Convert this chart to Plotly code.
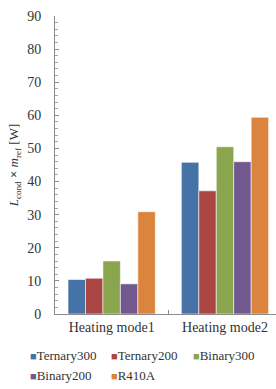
import plotly.graph_objects as go

categories = ["Heating mode1", "Heating mode2"]
series_names = ["Ternary300", "Ternary200", "Binary300", "Binary200", "R410A"]
ternary300 = [10.4, 45.8]
ternary200 = [10.8, 37.2]
binary300 = [16.0, 50.5]
binary200 = [9.1, 46.0]
r410a = [30.9, 59.4]
colors = ["#4572A7", "#AA4643", "#89A54E", "#71588F", "#DB843D"]

values = [ternary300, ternary200, binary300, binary200, r410a]

serif = "Liberation Serif, Times New Roman, serif"
W, H = 276, 389
ML, MR, MT, MB = 55, 0, 16, 75
pw, ph = W - ML - MR, H - MT - MB

fig = go.Figure()
for name, vals, col in zip(series_names, values, colors):
    fig.add_trace(go.Bar(
        x=categories, y=vals, name=name,
        marker=dict(color=col, line=dict(color="rgba(255,255,255,0.7)", width=0.8)),
        showlegend=False,
    ))

# legend drawn as text entries (2 rows, Excel-like)
legend_pos = [(28, 355), (109, 355), (191, 355), (28, 375), (109, 375)]
for name, col, (px, py) in zip(series_names, colors, legend_pos):
    fig.add_annotation(
        xref="paper", yref="paper",
        x=(px - ML) / pw, y=(MT + ph - py) / ph,
        xanchor="left", yanchor="middle", showarrow=False,
        text=f"<span style='color:{col};font-size:11px'>■</span>{name}",
        font=dict(family=serif, size=13, color="#333333"),
    )

fig.update_layout(
    width=W, height=H,
    margin=dict(l=ML, r=MR, t=MT, b=MB, autoexpand=False),
    paper_bgcolor="white", plot_bgcolor="white",
    barmode="group", bargap=0.23, bargroupgap=0,
    font=dict(family=serif, size=13, color="#333333"),
    xaxis=dict(
        range=[-0.5, 1.45], showline=True, linecolor="#8c8c8c", linewidth=1,
        ticks="inside", tickson="boundaries", ticklen=4, tickcolor="#8c8c8c",
        tickfont=dict(family=serif, size=14, color="#333333"),
        showgrid=False, zeroline=False, automargin=False,
    ),
    yaxis=dict(
        range=[0, 90], dtick=10, showline=True, linecolor="#8c8c8c", linewidth=1,
        ticks="inside", ticklen=4, tickcolor="#8c8c8c",
        minor=dict(dtick=2, ticks="inside", ticklen=3, tickcolor="#a6a6a6"),
        tickfont=dict(family=serif, size=14, color="#333333"),
        ticklabelstandoff=10,
        showgrid=False, zeroline=False, automargin=False,
        title=dict(text="<i>L</i><sub>cond</sub> <b>×</b> <i>m</i><sub>ref</sub> [W]",
                   font=dict(family=serif, size=13, color="#333333"), standoff=5),
    ),
)

fig.write_html("out.html", config={"displayModeBar": False},
               post_script="document.body.style.margin='0';document.body.style.overflow='hidden';")
